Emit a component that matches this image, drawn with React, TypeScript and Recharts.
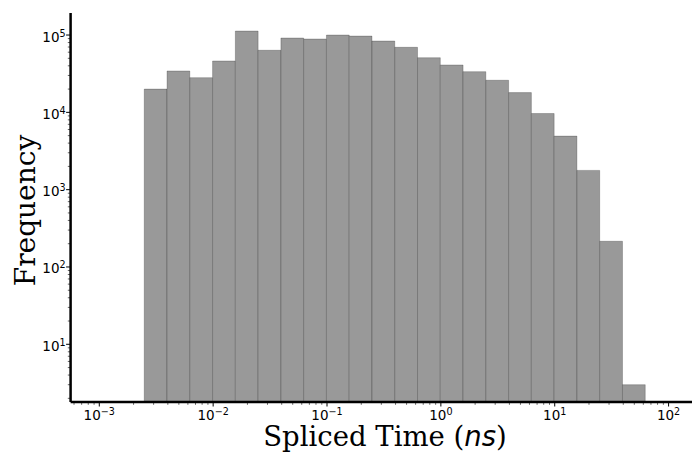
import { ComposedChart, XAxis, YAxis, ReferenceArea } from "recharts";

// histogram bins (log-spaced edges)
const BIN_EDGES = [
  0.002483, 0.003936, 0.006237, 0.009886, 0.01567, 0.02483, 0.03936, 0.06237,
  0.09886, 0.1567, 0.2483, 0.3936, 0.6237, 0.9886, 1.567, 2.483, 3.936, 6.237,
  9.886, 15.67, 24.83, 39.36, 62.37,
];
const COUNTS = [
  20000, 34300, 28100, 46200, 112600, 63500, 91500, 88800, 100000, 97000,
  83700, 69400, 50900, 41000, 33600, 26000, 18000, 9660, 4930, 1775, 215, 3,
];

const X_DOMAIN: [number, number] = [0.0005598, 186.5];
const Y_DOMAIN: [number, number] = [1.793, 192800];
const X_MAJOR_TICKS = [0.001, 0.01, 0.1, 1, 10, 100];
const Y_MAJOR_TICKS = [10, 100, 1000, 10000, 100000];

const minorTicks = (lo: number, hi: number) => {
  const out: number[] = [];
  for (let k = -5; k <= 6; k++)
    for (let m = 2; m <= 9; m++) {
      const v = m * Math.pow(10, k);
      if (v > lo && v < hi) out.push(v);
    }
  return out;
};

const xTicks = [...X_MAJOR_TICKS, ...minorTicks(...X_DOMAIN)].sort((a, b) => a - b);
const yTicks = [...Y_MAJOR_TICKS, ...minorTicks(...Y_DOMAIN)].sort((a, b) => a - b);

const bins = COUNTS.map((count, i) => ({
  lo: BIN_EDGES[i],
  hi: BIN_EDGES[i + 1],
  count,
}));

const isMajor = (v: number) => {
  const l = Math.log10(v);
  return Math.abs(l - Math.round(l)) < 1e-6;
};

const expText = (v: number) => {
  const e = Math.round(Math.log10(v));
  return e < 0 ? `\u2212${-e}` : `${e}`;
};

const TICK_FONT = "'DejaVu Sans', sans-serif";

const XTick = (props: any) => {
  const { x, y, payload } = props;
  const v = payload.value;
  const major = isMajor(v);
  return (
    <g>
      <line
        x1={x}
        x2={x}
        y1={y}
        y2={y + (major ? 4.5 : 2.8)}
        stroke="#000"
        strokeWidth={major ? 1 : 0.6}
      />
      {major && (
        <text x={x} y={y + 17.5} textAnchor="middle" fontFamily={TICK_FONT} fontSize={13.5} fill="#000">
          <tspan>10</tspan>
          <tspan dy={-5} fontSize={9.6}>
            {expText(v)}
          </tspan>
        </text>
      )}
    </g>
  );
};

const YTick = (props: any) => {
  const { x, y, payload } = props;
  const v = payload.value;
  const major = isMajor(v);
  return (
    <g>
      <line
        x1={x}
        x2={x - (major ? 4.5 : 2.8)}
        y1={y}
        y2={y}
        stroke="#000"
        strokeWidth={major ? 1 : 0.6}
      />
      {major && (
        <text x={x - 5} y={y + 6.5} textAnchor="end" fontFamily={TICK_FONT} fontSize={13.5} fill="#000">
          <tspan>10</tspan>
          <tspan dy={-5} fontSize={9.6}>
            {expText(v)}
          </tspan>
        </text>
      )}
    </g>
  );
};

const XLabel = (props: any) => {
  const vb = props.viewBox || { x: 70.6, width: 628.8 };
  return (
    <text
      x={vb.x + vb.width / 2}
      y={446}
      textAnchor="middle"
      fontFamily="'DejaVu Serif', serif"
      fontSize={27.5}
      fill="#000"
    >
      <tspan>Spliced Time (</tspan>
      <tspan fontFamily={TICK_FONT} fontStyle="italic">
        ns
      </tspan>
      <tspan>)</tspan>
    </text>
  );
};

const YLabel = (props: any) => {
  const vb = props.viewBox || { y: 13, height: 389 };
  const cy = vb.y + vb.height / 2 + 3;
  return (
    <text
      x={35}
      y={cy}
      transform={`rotate(-90, 35, ${cy})`}
      textAnchor="middle"
      fontFamily="'DejaVu Serif', serif"
      fontSize={28}
      fill="#000"
    >
      Frequency
    </text>
  );
};

const spine = { stroke: "#000", strokeWidth: 2.5 };

export default function App() {
  return (
    <div
      style={{
        position: "absolute",
        left: 0,
        top: 0,
        width: 692,
        height: 456,
        overflow: "hidden",
        background: "#fff",
      }}
    >
      <ComposedChart
        width={720}
        height={456}
        data={bins}
        margin={{ top: 13, right: 20.6, bottom: 0, left: 0 }}
      >
        <XAxis
          xAxisId={0}
          dataKey="lo"
          type="number"
          scale="log"
          domain={X_DOMAIN}
          allowDataOverflow
          ticks={xTicks}
          interval={0}
          height={54}
          axisLine={spine}
          tickLine={false}
          tickSize={0}
          tickMargin={0}
          tick={<XTick />}
          label={<XLabel />}
        />
        <XAxis
          xAxisId="top"
          dataKey="lo"
          orientation="top"
          type="number"
          scale="log"
          domain={X_DOMAIN}
          allowDataOverflow
          height={0}
          axisLine={spine}
          tick={false}
          tickLine={false}
        />
        <YAxis
          yAxisId={0}
          dataKey="count"
          type="number"
          scale="log"
          domain={Y_DOMAIN}
          allowDataOverflow
          ticks={yTicks}
          interval={0}
          width={70.6}
          axisLine={spine}
          tickLine={false}
          tickSize={0}
          tickMargin={0}
          tick={<YTick />}
          label={<YLabel />}
        />
        <YAxis
          yAxisId="right"
          dataKey="count"
          orientation="right"
          type="number"
          scale="log"
          domain={Y_DOMAIN}
          allowDataOverflow
          width={0}
          axisLine={spine}
          tick={false}
          tickLine={false}
        />
        {bins.map((b, i) => (
          <ReferenceArea
            key={i}
            x1={b.lo}
            x2={b.hi}
            y1={Y_DOMAIN[0]}
            y2={b.count}
            fill="#999999"
            fillOpacity={1}
            stroke="#000"
            strokeOpacity={0.22}
            strokeWidth={1}
            ifOverflow="hidden"
          />
        ))}
      </ComposedChart>
    </div>
  );
}
